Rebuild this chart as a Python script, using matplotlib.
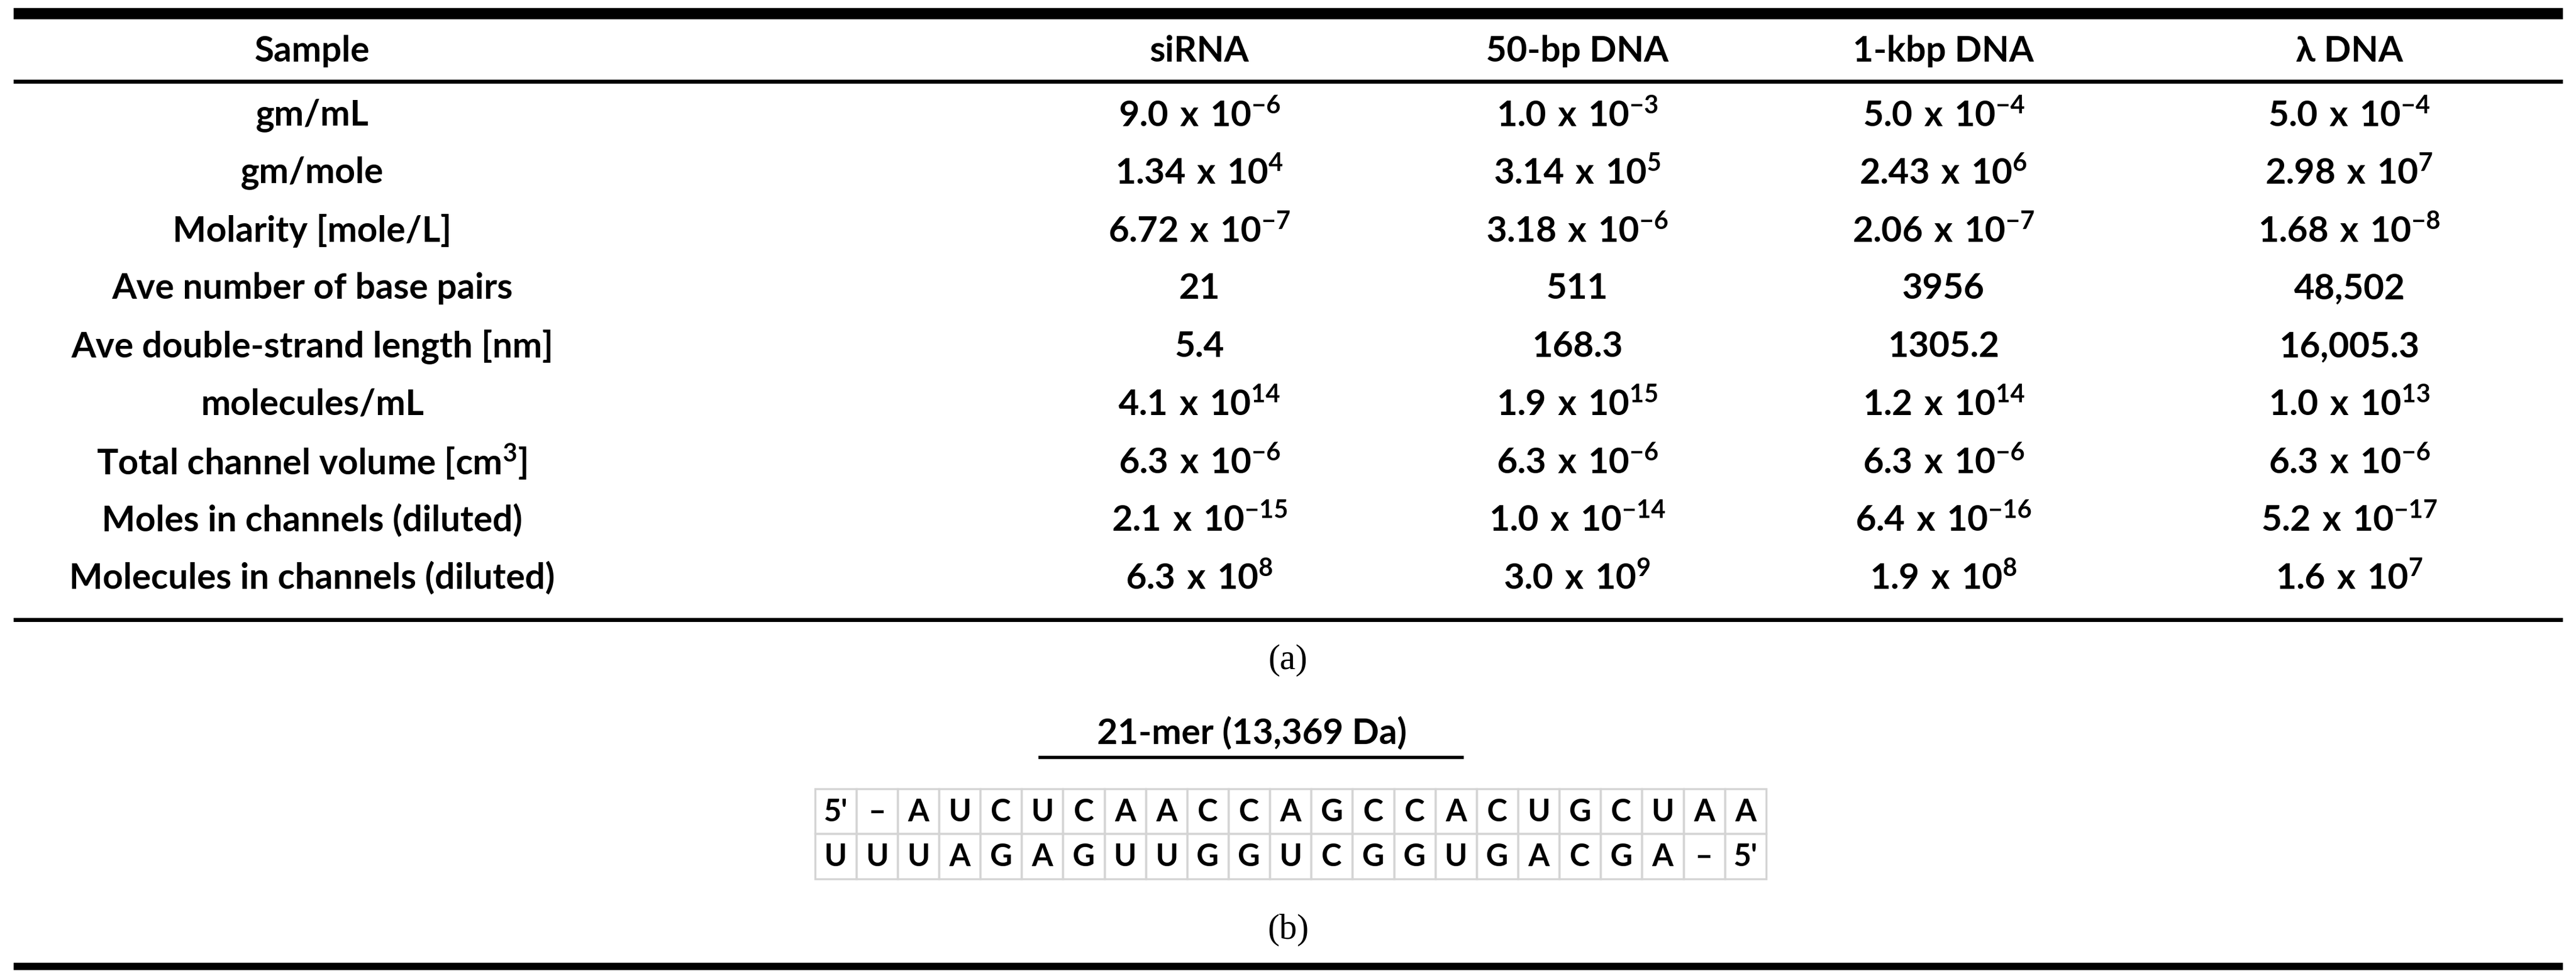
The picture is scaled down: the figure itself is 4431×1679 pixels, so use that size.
import matplotlib
matplotlib.use("Agg")
import matplotlib.pyplot as plt

plt.rcParams['font.family'] = ['Lato', 'DejaVu Sans']
plt.rcParams['mathtext.fontset'] = 'custom'
plt.rcParams['mathtext.rm'] = 'Lato'
plt.rcParams['mathtext.bf'] = 'Lato:bold'

columns = ["Sample", "siRNA", "50-bp DNA", "1-kbp DNA", "λ DNA"]
row_labels = ["gm/mL", "gm/mole", "Molarity [mole/L]", "Ave number of base pairs",
              "Ave double-strand length [nm]", "molecules/mL",
              r"Total channel volume [cm$\mathbf{^{3}}$]", "Moles in channels (diluted)",
              "Molecules in channels (diluted)"]
siRNA = [("9.0", "-6"), ("1.34", "4"), ("6.72", "-7"), ("21", None), ("5.4", None),
         ("4.1", "14"), ("6.3", "-6"), ("2.1", "-15"), ("6.3", "8")]
dna50 = [("1.0", "-3"), ("3.14", "5"), ("3.18", "-6"), ("511", None), ("168.3", None),
         ("1.9", "15"), ("6.3", "-6"), ("1.0", "-14"), ("3.0", "9")]
dna1k = [("5.0", "-4"), ("2.43", "6"), ("2.06", "-7"), ("3956", None), ("1305.2", None),
         ("1.2", "14"), ("6.3", "-6"), ("6.4", "-16"), ("1.9", "8")]
lam = [("5.0", "-4"), ("2.98", "7"), ("1.68", "-8"), ("48,502", None), ("16,005.3", None),
       ("1.0", "13"), ("6.3", "-6"), ("5.2", "-17"), ("1.6", "7")]
seq_top = ["5'", "–"] + list("AUCUCAACCAGCCACUGCUAA")
seq_bot = list("UUUAGAGUUGGUCGGUGACGA") + ["–", "5'"]
title_b = "21-mer (13,369 Da)"

fig = plt.figure(figsize=(44.31, 16.79), dpi=100)
ax = fig.add_axes([0, 0, 1, 1])
ax.set_xlim(0, 1568)
ax.set_ylim(594, 0)
ax.axis('off')

FS = 44
col_x = [190, 730, 960, 1183, 1430]
row_y = [70 + 35.2 * i for i in range(9)]

ax.plot([8, 1560], [8, 8], color='black', lw=14, solid_capstyle='butt')
ax.plot([8, 1560], [49.5, 49.5], color='black', lw=5, solid_capstyle='butt')
ax.plot([8, 1560], [377, 377], color='black', lw=5, solid_capstyle='butt')
ax.plot([8, 1560], [588, 588], color='black', lw=9, solid_capstyle='butt')

for x, c in zip(col_x, columns):
    ax.text(x, 31, c, ha='center', va='center', fontsize=FS, fontweight='bold')

def fmt(v):
    m, e = v
    if e is None:
        return m
    return r"$\mathbf{%s\ x\ 10^{%s}}$" % (m, e)

for i, y in enumerate(row_y):
    ax.text(col_x[0], y, row_labels[i], ha='center', va='center', fontsize=FS, fontweight='bold')
    for x, col in zip(col_x[1:], [siRNA, dna50, dna1k, lam]):
        ax.text(x, y, fmt(col[i]), ha='center', va='center', fontsize=FS, fontweight='bold')

ax.text(784, 402, "(a)", ha='center', va='center', fontsize=44, family='Liberation Serif')
ax.text(784, 566, "(b)", ha='center', va='center', fontsize=44, family='Liberation Serif')

ax.text(762, 446, title_b, ha='center', va='center', fontsize=FS, fontweight='bold')
ax.plot([633, 890], [461, 461], color='black', lw=4)

x0, x1 = 496, 1075
n = len(seq_top)
w = (x1 - x0) / n
rows_y = [(480, 507.5), (507.5, 535)]
for (ya, yb), seq in zip(rows_y, [seq_top, seq_bot]):
    for j, s in enumerate(seq):
        xa = x0 + j * w
        ax.add_patch(plt.Rectangle((xa, ya), w, yb - ya, fill=False, ec='#d4d4d4', lw=2.5))
        ax.text(xa + w / 2, (ya + yb) / 2 + 0.5, s, ha='center', va='center', fontsize=38, fontweight='bold')

fig.savefig("out.png", dpi=100, facecolor='white')
